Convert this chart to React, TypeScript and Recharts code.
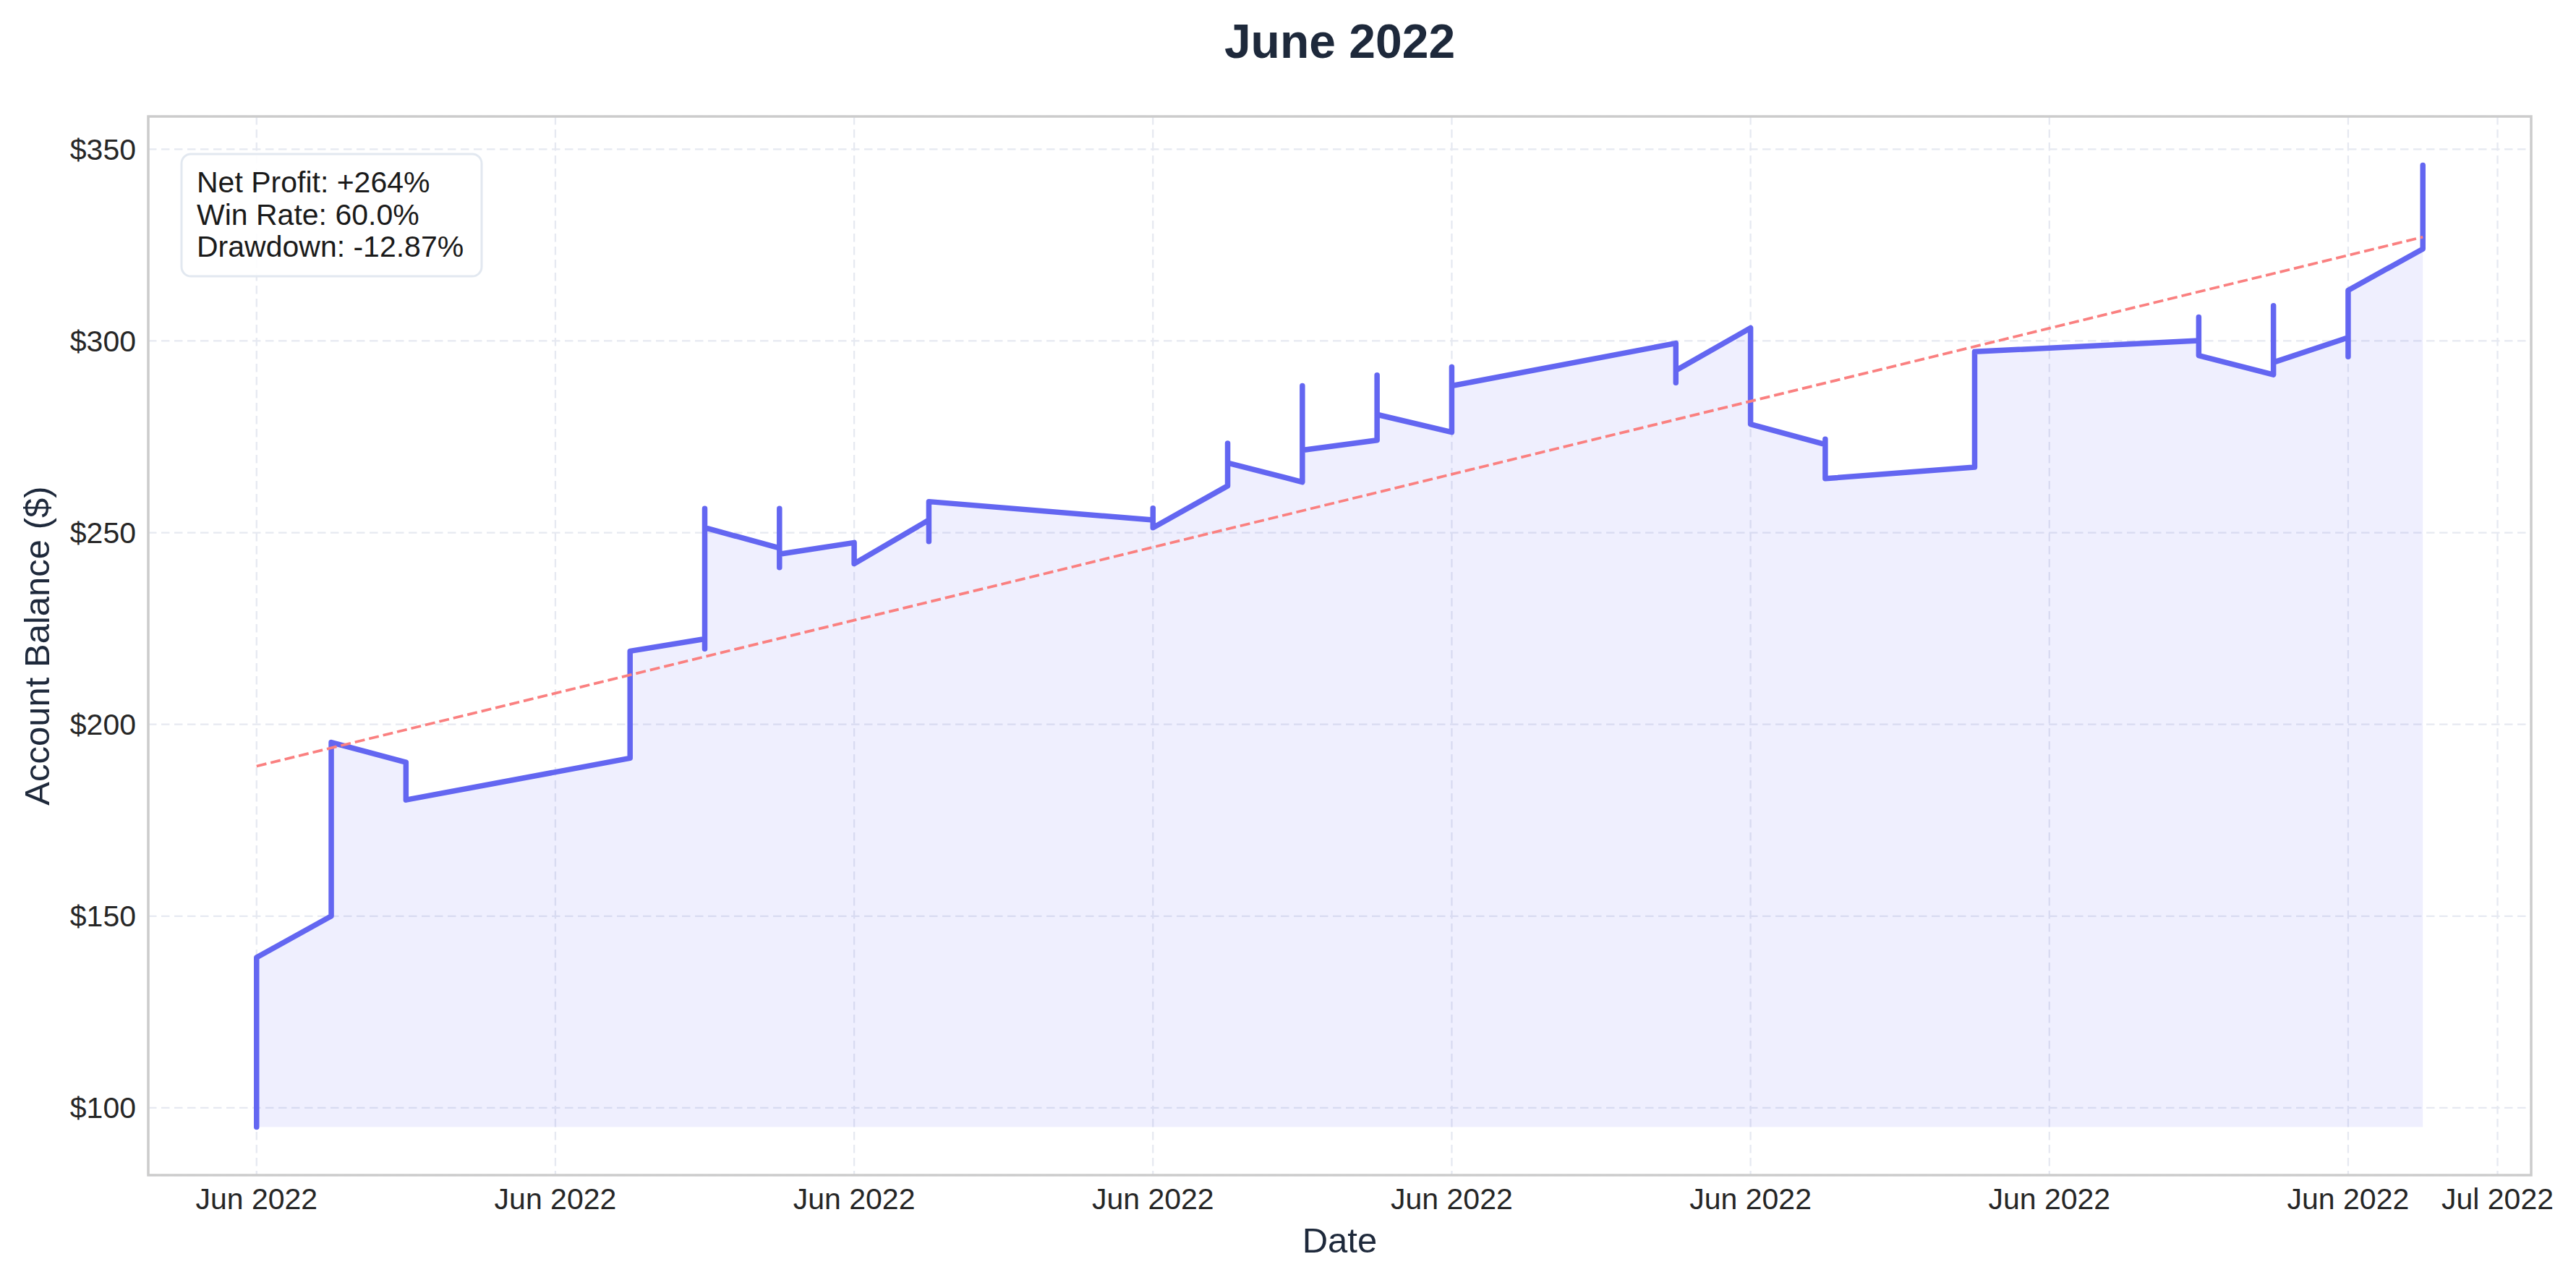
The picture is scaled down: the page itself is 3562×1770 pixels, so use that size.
import React from 'react';
import { ComposedChart, Area, Line, XAxis, YAxis, CartesianGrid, Customized } from 'recharts';

// ---- data ----
// day offset from 1 June 2022 for every trade close, and account balance after it ($)
const tradeDays = [0, 0, 1, 1, 2, 2, 5, 5, 5, 6, 6, 6, 6, 7, 7, 7, 7, 8, 8, 9, 9, 9, 12, 12, 12, 13, 13, 13, 14, 14, 14, 15, 15, 15, 16, 16, 16, 19, 19, 19, 20, 20, 21, 21, 21, 23, 23, 23, 23, 26, 26, 26, 27, 27, 27, 28, 28, 28, 29, 29];
const balances = [95.0, 139.2, 150.0, 195.3, 190.1, 180.3, 191.2, 208.4, 219.1, 222.3, 219.7, 256.3, 251.3, 246.0, 256.3, 240.9, 244.4, 247.4, 241.9, 253.3, 247.7, 258.1, 253.3, 256.4, 251.3, 262.2, 273.3, 268.2, 263.2, 288.3, 271.5, 274.1, 291.1, 280.8, 276.2, 293.2, 288.3, 299.4, 289.1, 292.3, 303.4, 278.3, 273.0, 274.4, 264.1, 267.1, 291.3, 286.0, 297.2, 300.1, 306.2, 296.2, 291.2, 309.2, 294.4, 300.9, 295.9, 313.2, 324.0, 345.8];

const trendDays = [0, 29];
const trendValues = [189.1, 327.1];

const xTickDays = [0, 4, 8, 12, 16, 20, 24, 28, 30];
const xTickLabels = ['Jun 2022', 'Jun 2022', 'Jun 2022', 'Jun 2022', 'Jun 2022', 'Jun 2022', 'Jun 2022', 'Jun 2022', 'Jul 2022'];
const yTicks = [100, 150, 200, 250, 300, 350];

const statLines = ['Net Profit: +264%', 'Win Rate: 60.0%', 'Drawdown: -12.87%'];
const titleText = 'June 2022';
const xLabelText = 'Date';
const yLabelText = 'Account Balance ($)';

// ---- layout / style ----
const W = 3562;
const H = 1770;
const P = { left: 205, top: 161, right: 3500, bottom: 1625 };
const FONT = '"Liberation Sans", Arial, Helvetica, sans-serif';
const NAVY = '#1E293B';

const data = tradeDays.map((d, i) => ({ day: d, balance: balances[i] }));
const trendData = trendDays.map((d, i) => ({ day: d, trend: trendValues[i] }));
const baseBalance = Math.min(...balances);

const Overlay = () => {
  const cx = (P.left + P.right) / 2;
  const cy = (P.top + P.bottom) / 2;
  return (
    <g>
      <rect x={P.left} y={P.top} width={P.right - P.left} height={P.bottom - P.top} fill="none" stroke="#CCCCCC" strokeWidth={3.5} />
      <text x={cx} y={80} textAnchor="middle" fontFamily={FONT} fontWeight="bold" fontSize={66} fill={NAVY}>{titleText}</text>
      <text x={cx} y={1732} textAnchor="middle" fontFamily={FONT} fontSize={49} fill={NAVY}>{xLabelText}</text>
      <text x={68} y={cy} textAnchor="middle" fontFamily={FONT} fontSize={49} fill={NAVY} transform={`rotate(-90, 68, ${cy})`}>{yLabelText}</text>
      <rect x={251} y={213} width={415} height={169} rx={13} ry={13} fill="#FFFFFF" fillOpacity={0.9} stroke="#E2E8F0" strokeWidth={3} />
      {statLines.map((s, i) => (
        <text key={i} x={272} y={266 + i * 44.5} fontFamily={FONT} fontSize={41} fill="#1A1A1A">{s}</text>
      ))}
    </g>
  );
};

export default function App() {
  return (
    <div style={{ position: 'absolute', left: 0, top: 0, width: W, height: H, background: '#FFFFFF' }}>
      <ComposedChart width={W} height={H} data={data} margin={{ top: P.top, right: W - P.right, bottom: 0, left: 0 }}>
        <CartesianGrid stroke="#E6E9F1" strokeWidth={2.3} strokeDasharray="11.5 6.5" />
        <XAxis
          type="number"
          dataKey="day"
          domain={[-1.45, 30.45]}
          ticks={xTickDays}
          interval={0}
          allowDataOverflow
          tickFormatter={(v) => xTickLabels[xTickDays.indexOf(v)] ?? ''}
          axisLine={false}
          tickLine={false}
          tickSize={0}
          tickMargin={18}
          height={H - P.bottom}
          tick={{ fontSize: 41, fill: '#262626', fontFamily: FONT }}
        />
        <YAxis
          type="number"
          domain={[82.45, 358.55]}
          ticks={yTicks}
          interval={0}
          allowDataOverflow
          tickFormatter={(v) => `$${v}`}
          axisLine={false}
          tickLine={false}
          tickSize={0}
          tickMargin={17}
          width={P.left}
          tick={{ fontSize: 41, fill: '#262626', fontFamily: FONT }}
        />
        <Area
          type="linear"
          dataKey="balance"
          baseValue={baseBalance}
          stroke="none"
          fill="#6366F1"
          fillOpacity={0.1}
          isAnimationActive={false}
          activeDot={false}
        />
        <Line
          type="linear"
          dataKey="balance"
          stroke="#6366F1"
          strokeWidth={7.5}
          strokeLinecap="round"
          strokeLinejoin="round"
          dot={false}
          activeDot={false}
          isAnimationActive={false}
        />
        <Line
          type="linear"
          data={trendData}
          dataKey="trend"
          stroke="#FA8080"
          strokeWidth={3.75}
          strokeDasharray="14 6"
          dot={false}
          activeDot={false}
          isAnimationActive={false}
        />
        <Customized component={Overlay} />
      </ComposedChart>
    </div>
  );
}
